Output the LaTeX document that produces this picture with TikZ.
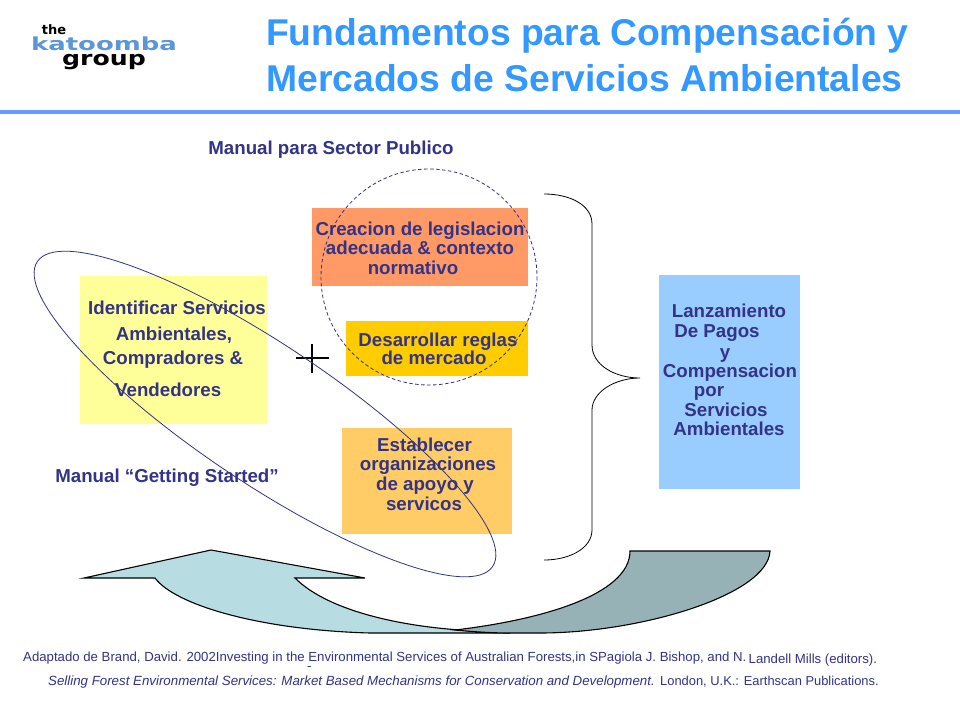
\documentclass[tikz,border=0pt]{standalone}
\usepackage{fontspec}
\setmainfont{Liberation Sans}
\newfontfamily\logofont{DejaVu Sans}
\definecolor{txtblue}{HTML}{333388}
\definecolor{titleblue}{HTML}{3399FF}
\definecolor{rulea}{HTML}{6699FF}
\definecolor{logoblue}{HTML}{5B96D6}
\definecolor{yelbox}{HTML}{FFFF99}
\definecolor{orgbox}{HTML}{FF9966}
\definecolor{goldbox}{HTML}{FFCC00}
\definecolor{lorbox}{HTML}{FFCC66}
\definecolor{bluebox}{HTML}{99CCFF}
\definecolor{arrowl}{HTML}{B7DDE2}
\definecolor{arrowd}{HTML}{97B2B6}
\tikzset{
 x=1pt,y=-1pt,
 lbl/.style={font=\fontsize{18.7}{18.7}\selectfont\bfseries,text=txtblue,inner sep=0pt,anchor=base},
 ttl/.style={font=\fontsize{37.3}{37.3}\selectfont\bfseries,text=titleblue,inner sep=0pt,anchor=base west},
 foot/.style={font=\fontsize{13.2}{13.2}\selectfont,text=txtblue,inner sep=0pt,anchor=base west},
 footi/.style={foot,font=\fontsize{13.3}{13.3}\selectfont\itshape},
 boxfill/.style={inner sep=0pt,anchor=north west},
 shapeline/.style={draw=black,line width=1.1pt,line join=miter},
}
\begin{document}
\begin{tikzpicture}
\useasboundingbox (0,0) rectangle (960,720);
\fill[white] (0,0) rectangle (960,720);
% logo
\node[inner sep=0pt,anchor=base,font=\logofont\fontsize{13}{13}\selectfont\bfseries,text=black] (logoa) at (54,34) {the};
\node[inner sep=0pt,anchor=base,font=\logofont\fontsize{18}{18}\selectfont\bfseries,text=logoblue,xscale=1.44] (logob) at (104,50) {katoomba};
\node[inner sep=0pt,anchor=base,font=\logofont\fontsize{20}{20}\selectfont\bfseries,text=black,xscale=1.26] (logoc) at (104,65) {group};
% title
\node[ttl] (t1) at (266,45) {Fundamentos para Compensación y};
\node[ttl] (t2) at (266,91.5) {Mercados de Servicios Ambientales};
\draw[rulea,line width=3.5pt] (0,112) -- (960,112);
% boxes
\node[boxfill,fill=yelbox,minimum width=187pt,minimum height=148pt] (yb) at (80,276) {};
\node[boxfill,fill=orgbox,minimum width=216pt,minimum height=78pt] (ob) at (312,208) {};
\node[boxfill,fill=goldbox,minimum width=182pt,minimum height=55pt] (gb) at (346,321) {};
\node[boxfill,fill=lorbox,minimum width=170pt,minimum height=106pt] (lb) at (342,428) {};
\node[boxfill,fill=bluebox,minimum width=141pt,minimum height=214pt] (bb) at (659,275) {};
% arrows
\draw[shapeline,fill=arrowl] (84,578) -- (211,550) -- (365,578) -- (295,578)
  .. controls (325,608) and (390,625) .. (460,630)
  .. controls (490,633) and (500,633) .. (510,633) -- (370,633)
  .. controls (260,630) and (175,605) .. (155,578) -- cycle;
\draw[shapeline,fill=arrowd] (630,551) -- (770,551)
  .. controls (768,595) and (640,633) .. (540,633)
  -- (510,633) .. controls (495,633) and (475,632) .. (455,630)
  .. controls (540,620) and (630,595) .. (630,551) -- cycle;
% brace
\draw[black,line width=0.8pt] (544,194) .. controls (570,194) and (592,205) .. (592,224) -- (592,345)
  .. controls (592,365) and (615,378) .. (640,378)
  .. controls (615,378) and (592,392) .. (592,410) -- (592,530)
  .. controls (592,548) and (570,560) .. (544,560);
% plus
\draw[black,line width=1.1pt] (296,358) -- (329,358);
\draw[black,line width=1.1pt] (312,344) -- (312,373);
% labels
\node[lbl] (m1) at (331,154) {Manual para Sector Publico};
\node[lbl] (m2) at (167,482) {Manual “Getting Started”};
\node[lbl] (a1) at (177,314) {Identificar Servicios};
\node[lbl] (a2) at (174,340) {Ambientales,};
\node[lbl] (a3) at (173,364) {Compradores \&};
\node[lbl,anchor=base west] (a4) at (115,396) {Vendedores};
\node[lbl] (b1) at (420,235) {Creacion de legislacion};
\node[lbl] (b2) at (420,254) {adecuada \& contexto};
\node[lbl] (b3) at (413,274) {normativo};
\node[lbl] (c1) at (438,346) {Desarrollar reglas};
\node[lbl] (c2) at (434,364) {de mercado};
\node[lbl,anchor=base west] (d1) at (377,451) {Establecer};
\node[lbl] (d2) at (428,470) {organizaciones};
\node[lbl] (d3) at (425,490) {de apoyo y};
\node[lbl] (d4) at (424,510) {servicos};
\node[lbl] (e1) at (729,317) {Lanzamiento};
\node[lbl] (e2) at (717,337) {De Pagos};
\node[lbl] (e3) at (725,358) {y};
\node[lbl] (e4) at (730,377) {Compensacion};
\node[lbl] (e5) at (709,396) {por};
\node[lbl] (e6) at (726,416) {Servicios};
\node[lbl] (e7) at (729,435) {Ambientales};
% curves
\draw[txtblue,line width=0.8pt,shift={(265,414)},rotate=-33.8] (0,0) ellipse [x radius=274,y radius=68.7];
\draw[txtblue,line width=0.8pt,dash pattern=on 3.5pt off 2.5pt] (429,277) circle [radius=108];
% footer
\node[foot] (f1) at (23,661) {Adaptado de Brand, David. 2002Investing in the Environmental Services of Australian Forests,in SPagiola J. Bishop, and N.};
\node[foot] (f2) at (748.5,663) {Landell  Mills (editors).};
\node[foot] (f3) at (307,670) {-};
\node[footi] (f4) at (48,685) {Selling Forest Environmental Services: Market  Based Mechanisms for Conservation and Development.};
\node[foot,font=\fontsize{12.9}{12.9}\selectfont] (f5) at (660,685) {London, U.K.: Earthscan Publications.};
\end{tikzpicture}
\end{document}
